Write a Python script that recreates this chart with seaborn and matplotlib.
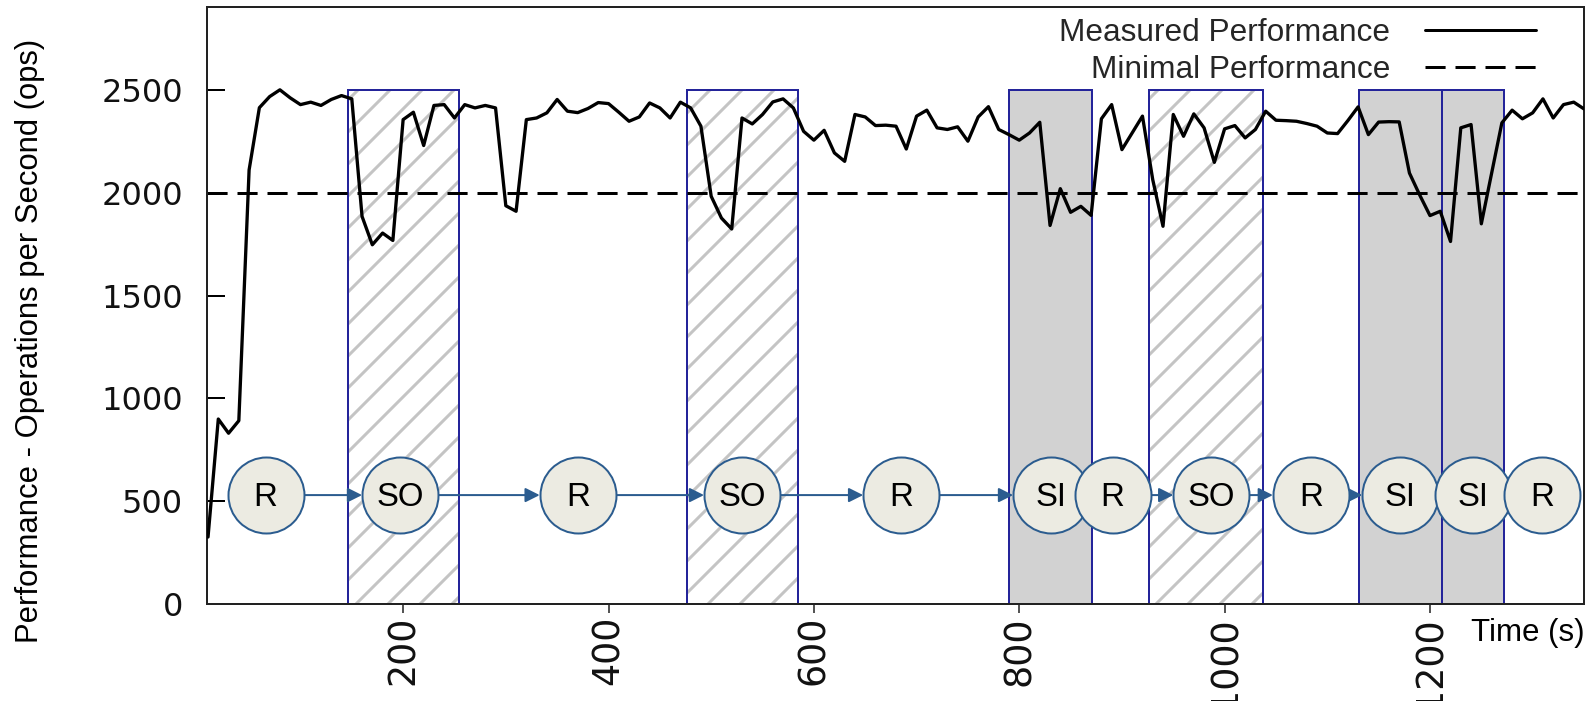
import matplotlib
matplotlib.use('Agg')
import matplotlib.pyplot as plt
import seaborn as sns
import pandas as pd
from matplotlib.lines import Line2D

# ---------------- data ----------------
time_s = list(range(10, 1351, 10))
ops = [
    326, 900, 831, 892, 2112, 2415, 2469, 2502, 2463, 2430,
    2442, 2426, 2455, 2474, 2458, 1886, 1748, 1805, 1769, 2357,
    2393, 2231, 2426, 2430, 2365, 2430, 2414, 2426, 2414, 1938,
    1911, 2357, 2365, 2390, 2455, 2398, 2391, 2411, 2440, 2435,
    2393, 2349, 2370, 2438, 2414, 2365, 2442, 2414, 2325, 1984,
    1878, 1825, 2365, 2336, 2382, 2443, 2458, 2414, 2300, 2257,
    2305, 2195, 2154, 2382, 2370, 2328, 2330, 2325, 2214, 2374,
    2403, 2317, 2309, 2322, 2252, 2370, 2420, 2309, 2284, 2257,
    2292, 2344, 1842, 2021, 1906, 1935, 1891, 2361, 2430, 2211,
    2292, 2374, 2065, 1838, 2382, 2276, 2385, 2317, 2149, 2312,
    2328, 2268, 2309, 2398, 2354, 2352, 2349, 2338, 2325, 2292,
    2289, 2352, 2419, 2284, 2345, 2347, 2346, 2097, 1990, 1890,
    1911, 1764, 2317, 2333, 1850, 2095, 2341, 2403, 2361, 2390,
    2458, 2365, 2430, 2442, 2409,
]
min_perf = 2000
window_top = 2500

so_windows = [(146, 254), (476, 585), (926, 1037)]      # scale-out (hatched)
si_windows = [(790, 871), (1131, 1212), (1212, 1272)]   # scale-in (gray)

state_labels = ['R', 'SO', 'R', 'SO', 'R', 'SI', 'R', 'SO', 'R', 'SI', 'SI', 'R']
state_x = [66, 197, 370, 530, 685, 831, 891, 987, 1084, 1171, 1242, 1309]
state_level = 530
arrows = [(0, 1), (1, 2), (2, 3), (3, 4), (4, 5), (6, 7), (7, 8), (8, 9)]

xticks = [200, 400, 600, 800, 1000, 1200]
yticks = [0, 500, 1000, 1500, 2000, 2500]
legend_labels = ['Measured Performance', 'Minimal Performance']

# ---------------- style ----------------
DPI = 192


def P(px):
    """pixels -> points at the output dpi"""
    return px * 72.0 / DPI


sns.set_theme(style='white')
plt.rcParams['font.family'] = ['Liberation Sans', 'DejaVu Sans']
plt.rcParams['hatch.linewidth'] = P(3)

EDGE_BLUE = '#24249a'
NODE_BLUE = '#2b5c8f'
NODE_FILL = '#ecebe2'
DASH = (0, (6.7, 3.3))

fig = plt.figure(figsize=(1596 / DPI, 701 / DPI), dpi=DPI, facecolor='white')
ax = fig.add_axes([207 / 1596, 97 / 701, 1376.5 / 1596, 597 / 701])

# windows
so_left = [a for a, b in so_windows]
so_w = [b - a for a, b in so_windows]
si_left = [a for a, b in si_windows]
si_w = [b - a for a, b in si_windows]
ax.bar(so_left, [window_top] * len(so_left), width=so_w, align='edge',
       facecolor='white', edgecolor='#c4c4c4', hatch='//', linewidth=0, zorder=1)
ax.bar(so_left, [window_top] * len(so_left), width=so_w, align='edge',
       facecolor='none', edgecolor=EDGE_BLUE, linewidth=P(2), zorder=1.5)
ax.bar(si_left, [window_top] * len(si_left), width=si_w, align='edge',
       facecolor='#d2d2d2', edgecolor=EDGE_BLUE, linewidth=P(2), zorder=1.5)

# performance line
df = pd.DataFrame({'time': time_s, 'ops': ops})
sns.lineplot(data=df, x='time', y='ops', color='black', linewidth=P(3.3),
             ax=ax, zorder=3, legend=False)
ax.axhline(min_perf, color='black', linestyle=DASH, linewidth=P(3), zorder=2.5)

# state nodes
for i, j in arrows:
    ax.annotate('', xy=(state_x[j], state_level), xytext=(state_x[i], state_level),
                arrowprops=dict(arrowstyle='-|>', color=NODE_BLUE, lw=P(2),
                                shrinkA=P(38), shrinkB=P(38), mutation_scale=P(30)),
                zorder=4)
sns.scatterplot(x=state_x, y=[state_level] * len(state_x), s=P(76) ** 2, color=NODE_FILL,
                edgecolor=NODE_BLUE, linewidth=P(2), ax=ax, zorder=5, legend=False)
for lab, x in zip(state_labels, state_x):
    ax.annotate(lab, (x, state_level), xytext=(0, -P(2.7)), textcoords='offset points',
                ha='center', va='center', fontsize=P(33), color='black', zorder=6)

# axes
ax.set_xlim(9, 1349.5)
ax.set_ylim(0, 2905)
ax.set_xticks(xticks, labels=[str(t) for t in xticks], fontfamily='DejaVu Sans')
ax.set_yticks(yticks, labels=[str(t) for t in yticks], fontfamily='DejaVu Sans')
ax.tick_params(axis='y', direction='in', length=P(18), width=P(2), color='black',
               pad=P(24), labelsize=P(32), left=True, right=False, labelcolor='#111111')
ax.tick_params(axis='x', direction='out', length=P(9), width=P(2), color='#555555',
               pad=P(3), labelsize=P(36.5), labelrotation=90, bottom=True,
               labelcolor='#111111')
for s in ax.spines.values():
    s.set_visible(True)
    s.set_color('#222222')
    s.set_linewidth(P(2))
ax.grid(False)

ax.set_ylabel('Performance - Operations per Second (ops)', fontsize=P(31), color='black')
ax.yaxis.set_label_coords(-0.1175, 0.4405)
ax.set_xlabel('Time (s)', fontsize=P(31.3), color='black', ha='right')
ax.xaxis.set_label_coords(1.001, -0.024)

handles = [Line2D([], [], color='black', lw=P(3)),
           Line2D([], [], color='black', lw=P(3), linestyle=DASH)]
ax.legend(handles, legend_labels, loc='upper right', bbox_to_anchor=(0.9655, 0.982),
          frameon=False, markerfirst=False, fontsize=P(31.7), borderpad=0,
          borderaxespad=0, handlelength=3.5, handletextpad=1.1, labelspacing=0.22)

fig.savefig('out.png', dpi=DPI, facecolor='white')
